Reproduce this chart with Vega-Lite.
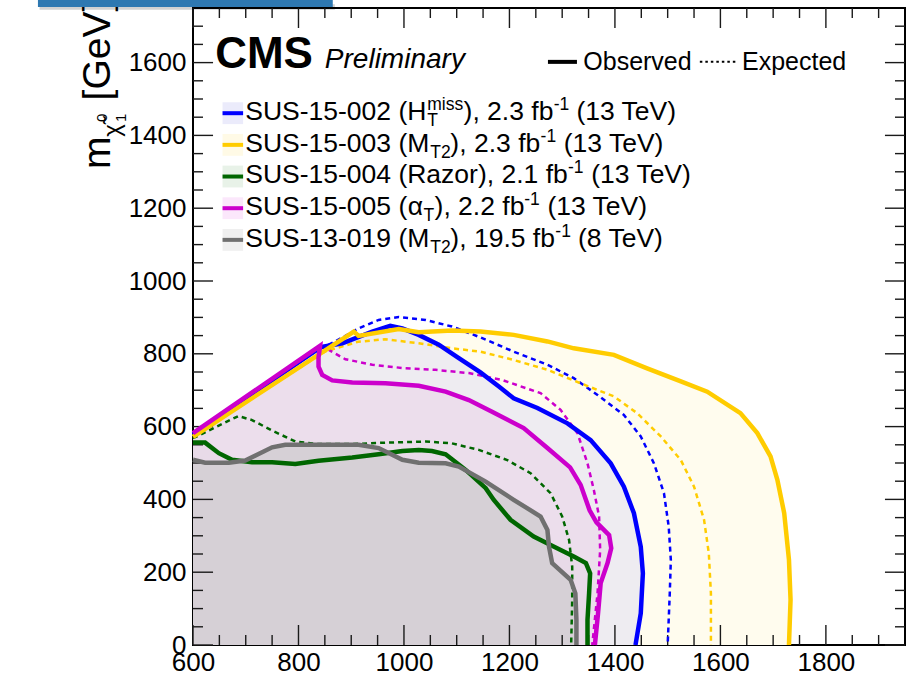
{
  "$schema": "https://vega.github.io/schema/vega-lite/v6.json",
  "width": 712,
  "height": 637,
  "autosize": {"type": "none"},
  "padding": {"left": 193, "top": 8, "right": 17, "bottom": 32},
  "background": "white",
  "config": {
    "view": {"stroke": "#000", "strokeWidth": 2},
    "font": "Liberation Sans"
  },
  "datasets": {
    "contours": [
      {"a": "SUS-15-002", "t": "obs", "i": 0, "x": 600, "y": 0},
      {"a": "SUS-15-002", "t": "obs", "i": 1, "x": 600, "y": 578},
      {"a": "SUS-15-002", "t": "obs", "i": 2, "x": 842, "y": 818},
      {"a": "SUS-15-002", "t": "obs", "i": 3, "x": 883, "y": 829},
      {"a": "SUS-15-002", "t": "obs", "i": 4, "x": 940, "y": 861},
      {"a": "SUS-15-002", "t": "obs", "i": 5, "x": 974, "y": 877},
      {"a": "SUS-15-002", "t": "obs", "i": 6, "x": 997, "y": 870},
      {"a": "SUS-15-002", "t": "obs", "i": 7, "x": 1028, "y": 852},
      {"a": "SUS-15-002", "t": "obs", "i": 8, "x": 1066, "y": 825},
      {"a": "SUS-15-002", "t": "obs", "i": 9, "x": 1104, "y": 788},
      {"a": "SUS-15-002", "t": "obs", "i": 10, "x": 1145, "y": 749},
      {"a": "SUS-15-002", "t": "obs", "i": 11, "x": 1180, "y": 710},
      {"a": "SUS-15-002", "t": "obs", "i": 12, "x": 1208, "y": 678},
      {"a": "SUS-15-002", "t": "obs", "i": 13, "x": 1253, "y": 651},
      {"a": "SUS-15-002", "t": "obs", "i": 14, "x": 1310, "y": 609},
      {"a": "SUS-15-002", "t": "obs", "i": 15, "x": 1354, "y": 563},
      {"a": "SUS-15-002", "t": "obs", "i": 16, "x": 1392, "y": 499},
      {"a": "SUS-15-002", "t": "obs", "i": 17, "x": 1417, "y": 435},
      {"a": "SUS-15-002", "t": "obs", "i": 18, "x": 1436, "y": 362},
      {"a": "SUS-15-002", "t": "obs", "i": 19, "x": 1449, "y": 270},
      {"a": "SUS-15-002", "t": "obs", "i": 20, "x": 1453, "y": 197},
      {"a": "SUS-15-002", "t": "obs", "i": 21, "x": 1449, "y": 87},
      {"a": "SUS-15-002", "t": "obs", "i": 22, "x": 1439, "y": 0},
      {"a": "SUS-15-002", "t": "exp", "i": 1, "x": 600, "y": 580},
      {"a": "SUS-15-002", "t": "exp", "i": 2, "x": 838, "y": 812},
      {"a": "SUS-15-002", "t": "exp", "i": 3, "x": 870, "y": 834},
      {"a": "SUS-15-002", "t": "exp", "i": 4, "x": 914, "y": 870},
      {"a": "SUS-15-002", "t": "exp", "i": 5, "x": 952, "y": 893},
      {"a": "SUS-15-002", "t": "exp", "i": 6, "x": 990, "y": 901},
      {"a": "SUS-15-002", "t": "exp", "i": 7, "x": 1041, "y": 893},
      {"a": "SUS-15-002", "t": "exp", "i": 8, "x": 1091, "y": 875},
      {"a": "SUS-15-002", "t": "exp", "i": 9, "x": 1145, "y": 845},
      {"a": "SUS-15-002", "t": "exp", "i": 10, "x": 1208, "y": 806},
      {"a": "SUS-15-002", "t": "exp", "i": 11, "x": 1272, "y": 770},
      {"a": "SUS-15-002", "t": "exp", "i": 12, "x": 1322, "y": 733},
      {"a": "SUS-15-002", "t": "exp", "i": 13, "x": 1367, "y": 687},
      {"a": "SUS-15-002", "t": "exp", "i": 14, "x": 1417, "y": 632},
      {"a": "SUS-15-002", "t": "exp", "i": 15, "x": 1449, "y": 573},
      {"a": "SUS-15-002", "t": "exp", "i": 16, "x": 1474, "y": 499},
      {"a": "SUS-15-002", "t": "exp", "i": 17, "x": 1493, "y": 417},
      {"a": "SUS-15-002", "t": "exp", "i": 18, "x": 1502, "y": 325},
      {"a": "SUS-15-002", "t": "exp", "i": 19, "x": 1506, "y": 234},
      {"a": "SUS-15-002", "t": "exp", "i": 20, "x": 1504, "y": 142},
      {"a": "SUS-15-002", "t": "exp", "i": 21, "x": 1500, "y": 0},

      {"a": "SUS-15-003", "t": "obs", "i": 0, "x": 600, "y": 0},
      {"a": "SUS-15-003", "t": "obs", "i": 1, "x": 600, "y": 572},
      {"a": "SUS-15-003", "t": "obs", "i": 2, "x": 905, "y": 861},
      {"a": "SUS-15-003", "t": "obs", "i": 3, "x": 914, "y": 849},
      {"a": "SUS-15-003", "t": "obs", "i": 4, "x": 990, "y": 868},
      {"a": "SUS-15-003", "t": "obs", "i": 5, "x": 1028, "y": 859},
      {"a": "SUS-15-003", "t": "obs", "i": 6, "x": 1091, "y": 864},
      {"a": "SUS-15-003", "t": "obs", "i": 7, "x": 1145, "y": 861},
      {"a": "SUS-15-003", "t": "obs", "i": 8, "x": 1208, "y": 852},
      {"a": "SUS-15-003", "t": "obs", "i": 9, "x": 1272, "y": 834},
      {"a": "SUS-15-003", "t": "obs", "i": 10, "x": 1322, "y": 815},
      {"a": "SUS-15-003", "t": "obs", "i": 11, "x": 1398, "y": 797},
      {"a": "SUS-15-003", "t": "obs", "i": 12, "x": 1461, "y": 760},
      {"a": "SUS-15-003", "t": "obs", "i": 13, "x": 1525, "y": 724},
      {"a": "SUS-15-003", "t": "obs", "i": 14, "x": 1575, "y": 696},
      {"a": "SUS-15-003", "t": "obs", "i": 15, "x": 1638, "y": 637},
      {"a": "SUS-15-003", "t": "obs", "i": 16, "x": 1670, "y": 582},
      {"a": "SUS-15-003", "t": "obs", "i": 17, "x": 1695, "y": 518},
      {"a": "SUS-15-003", "t": "obs", "i": 18, "x": 1708, "y": 454},
      {"a": "SUS-15-003", "t": "obs", "i": 19, "x": 1721, "y": 362},
      {"a": "SUS-15-003", "t": "obs", "i": 20, "x": 1730, "y": 234},
      {"a": "SUS-15-003", "t": "obs", "i": 21, "x": 1733, "y": 124},
      {"a": "SUS-15-003", "t": "obs", "i": 22, "x": 1730, "y": 0},
      {"a": "SUS-15-003", "t": "exp", "i": 1, "x": 600, "y": 574},
      {"a": "SUS-15-003", "t": "exp", "i": 2, "x": 850, "y": 806},
      {"a": "SUS-15-003", "t": "exp", "i": 3, "x": 913, "y": 833},
      {"a": "SUS-15-003", "t": "exp", "i": 4, "x": 964, "y": 840},
      {"a": "SUS-15-003", "t": "exp", "i": 5, "x": 1028, "y": 829},
      {"a": "SUS-15-003", "t": "exp", "i": 6, "x": 1091, "y": 815},
      {"a": "SUS-15-003", "t": "exp", "i": 7, "x": 1145, "y": 806},
      {"a": "SUS-15-003", "t": "exp", "i": 8, "x": 1208, "y": 783},
      {"a": "SUS-15-003", "t": "exp", "i": 9, "x": 1272, "y": 756},
      {"a": "SUS-15-003", "t": "exp", "i": 10, "x": 1335, "y": 719},
      {"a": "SUS-15-003", "t": "exp", "i": 11, "x": 1398, "y": 683},
      {"a": "SUS-15-003", "t": "exp", "i": 12, "x": 1442, "y": 637},
      {"a": "SUS-15-003", "t": "exp", "i": 13, "x": 1487, "y": 573},
      {"a": "SUS-15-003", "t": "exp", "i": 14, "x": 1525, "y": 508},
      {"a": "SUS-15-003", "t": "exp", "i": 15, "x": 1550, "y": 435},
      {"a": "SUS-15-003", "t": "exp", "i": 16, "x": 1569, "y": 344},
      {"a": "SUS-15-003", "t": "exp", "i": 17, "x": 1578, "y": 252},
      {"a": "SUS-15-003", "t": "exp", "i": 18, "x": 1582, "y": 142},
      {"a": "SUS-15-003", "t": "exp", "i": 19, "x": 1582, "y": 0},

      {"a": "SUS-15-004", "t": "obs", "i": 0, "x": 600, "y": 0},
      {"a": "SUS-15-004", "t": "obs", "i": 1, "x": 600, "y": 556},
      {"a": "SUS-15-004", "t": "obs", "i": 2, "x": 623, "y": 556},
      {"a": "SUS-15-004", "t": "obs", "i": 3, "x": 649, "y": 527},
      {"a": "SUS-15-004", "t": "obs", "i": 4, "x": 674, "y": 509},
      {"a": "SUS-15-004", "t": "obs", "i": 5, "x": 712, "y": 502},
      {"a": "SUS-15-004", "t": "obs", "i": 6, "x": 750, "y": 502},
      {"a": "SUS-15-004", "t": "obs", "i": 7, "x": 794, "y": 497},
      {"a": "SUS-15-004", "t": "obs", "i": 8, "x": 838, "y": 506},
      {"a": "SUS-15-004", "t": "obs", "i": 9, "x": 902, "y": 515},
      {"a": "SUS-15-004", "t": "obs", "i": 10, "x": 952, "y": 524},
      {"a": "SUS-15-004", "t": "obs", "i": 11, "x": 997, "y": 533},
      {"a": "SUS-15-004", "t": "obs", "i": 12, "x": 1028, "y": 536},
      {"a": "SUS-15-004", "t": "obs", "i": 13, "x": 1053, "y": 533},
      {"a": "SUS-15-004", "t": "obs", "i": 14, "x": 1079, "y": 524},
      {"a": "SUS-15-004", "t": "obs", "i": 15, "x": 1117, "y": 481},
      {"a": "SUS-15-004", "t": "obs", "i": 16, "x": 1155, "y": 431},
      {"a": "SUS-15-004", "t": "obs", "i": 17, "x": 1170, "y": 399},
      {"a": "SUS-15-004", "t": "obs", "i": 18, "x": 1202, "y": 344},
      {"a": "SUS-15-004", "t": "obs", "i": 19, "x": 1246, "y": 298},
      {"a": "SUS-15-004", "t": "obs", "i": 20, "x": 1278, "y": 275},
      {"a": "SUS-15-004", "t": "obs", "i": 21, "x": 1322, "y": 243},
      {"a": "SUS-15-004", "t": "obs", "i": 22, "x": 1345, "y": 225},
      {"a": "SUS-15-004", "t": "obs", "i": 23, "x": 1353, "y": 197},
      {"a": "SUS-15-004", "t": "obs", "i": 24, "x": 1351, "y": 142},
      {"a": "SUS-15-004", "t": "obs", "i": 25, "x": 1348, "y": 69},
      {"a": "SUS-15-004", "t": "obs", "i": 26, "x": 1348, "y": 0},
      {"a": "SUS-15-004", "t": "exp", "i": 1, "x": 600, "y": 568},
      {"a": "SUS-15-004", "t": "exp", "i": 2, "x": 686, "y": 629},
      {"a": "SUS-15-004", "t": "exp", "i": 3, "x": 712, "y": 618},
      {"a": "SUS-15-004", "t": "exp", "i": 4, "x": 750, "y": 589},
      {"a": "SUS-15-004", "t": "exp", "i": 5, "x": 781, "y": 568},
      {"a": "SUS-15-004", "t": "exp", "i": 6, "x": 794, "y": 559},
      {"a": "SUS-15-004", "t": "exp", "i": 7, "x": 838, "y": 552},
      {"a": "SUS-15-004", "t": "exp", "i": 8, "x": 902, "y": 552},
      {"a": "SUS-15-004", "t": "exp", "i": 9, "x": 965, "y": 556},
      {"a": "SUS-15-004", "t": "exp", "i": 10, "x": 1041, "y": 559},
      {"a": "SUS-15-004", "t": "exp", "i": 11, "x": 1091, "y": 554},
      {"a": "SUS-15-004", "t": "exp", "i": 12, "x": 1142, "y": 536},
      {"a": "SUS-15-004", "t": "exp", "i": 13, "x": 1196, "y": 508},
      {"a": "SUS-15-004", "t": "exp", "i": 14, "x": 1240, "y": 472},
      {"a": "SUS-15-004", "t": "exp", "i": 15, "x": 1278, "y": 417},
      {"a": "SUS-15-004", "t": "exp", "i": 16, "x": 1300, "y": 353},
      {"a": "SUS-15-004", "t": "exp", "i": 17, "x": 1313, "y": 289},
      {"a": "SUS-15-004", "t": "exp", "i": 18, "x": 1319, "y": 215},
      {"a": "SUS-15-004", "t": "exp", "i": 19, "x": 1319, "y": 124},
      {"a": "SUS-15-004", "t": "exp", "i": 20, "x": 1317, "y": 0},

      {"a": "SUS-13-019", "t": "obs", "i": 0, "x": 600, "y": 0},
      {"a": "SUS-13-019", "t": "obs", "i": 1, "x": 600, "y": 509},
      {"a": "SUS-13-019", "t": "obs", "i": 2, "x": 623, "y": 501},
      {"a": "SUS-13-019", "t": "obs", "i": 3, "x": 668, "y": 501},
      {"a": "SUS-13-019", "t": "obs", "i": 4, "x": 699, "y": 507},
      {"a": "SUS-13-019", "t": "obs", "i": 5, "x": 750, "y": 543},
      {"a": "SUS-13-019", "t": "obs", "i": 6, "x": 775, "y": 550},
      {"a": "SUS-13-019", "t": "obs", "i": 7, "x": 838, "y": 550},
      {"a": "SUS-13-019", "t": "obs", "i": 8, "x": 914, "y": 550},
      {"a": "SUS-13-019", "t": "obs", "i": 9, "x": 952, "y": 541},
      {"a": "SUS-13-019", "t": "obs", "i": 10, "x": 997, "y": 509},
      {"a": "SUS-13-019", "t": "obs", "i": 11, "x": 1028, "y": 501},
      {"a": "SUS-13-019", "t": "obs", "i": 12, "x": 1079, "y": 499},
      {"a": "SUS-13-019", "t": "obs", "i": 13, "x": 1104, "y": 490},
      {"a": "SUS-13-019", "t": "obs", "i": 14, "x": 1155, "y": 449},
      {"a": "SUS-13-019", "t": "obs", "i": 15, "x": 1208, "y": 399},
      {"a": "SUS-13-019", "t": "obs", "i": 16, "x": 1259, "y": 353},
      {"a": "SUS-13-019", "t": "obs", "i": 17, "x": 1272, "y": 316},
      {"a": "SUS-13-019", "t": "obs", "i": 18, "x": 1275, "y": 270},
      {"a": "SUS-13-019", "t": "obs", "i": 19, "x": 1281, "y": 225},
      {"a": "SUS-13-019", "t": "obs", "i": 20, "x": 1316, "y": 179},
      {"a": "SUS-13-019", "t": "obs", "i": 21, "x": 1325, "y": 142},
      {"a": "SUS-13-019", "t": "obs", "i": 22, "x": 1327, "y": 69},
      {"a": "SUS-13-019", "t": "obs", "i": 23, "x": 1327, "y": 0},

      {"a": "SUS-15-005", "t": "obs", "i": 0, "x": 600, "y": 0},
      {"a": "SUS-15-005", "t": "obs", "i": 1, "x": 600, "y": 582},
      {"a": "SUS-15-005", "t": "obs", "i": 2, "x": 841, "y": 822},
      {"a": "SUS-15-005", "t": "obs", "i": 3, "x": 838, "y": 790},
      {"a": "SUS-15-005", "t": "obs", "i": 4, "x": 838, "y": 765},
      {"a": "SUS-15-005", "t": "obs", "i": 5, "x": 845, "y": 742},
      {"a": "SUS-15-005", "t": "obs", "i": 6, "x": 864, "y": 727},
      {"a": "SUS-15-005", "t": "obs", "i": 7, "x": 902, "y": 721},
      {"a": "SUS-15-005", "t": "obs", "i": 8, "x": 965, "y": 719},
      {"a": "SUS-15-005", "t": "obs", "i": 9, "x": 1028, "y": 712},
      {"a": "SUS-15-005", "t": "obs", "i": 10, "x": 1079, "y": 696},
      {"a": "SUS-15-005", "t": "obs", "i": 11, "x": 1123, "y": 673},
      {"a": "SUS-15-005", "t": "obs", "i": 12, "x": 1167, "y": 641},
      {"a": "SUS-15-005", "t": "obs", "i": 13, "x": 1227, "y": 596},
      {"a": "SUS-15-005", "t": "obs", "i": 14, "x": 1272, "y": 541},
      {"a": "SUS-15-005", "t": "obs", "i": 15, "x": 1315, "y": 488},
      {"a": "SUS-15-005", "t": "obs", "i": 16, "x": 1335, "y": 440},
      {"a": "SUS-15-005", "t": "obs", "i": 17, "x": 1352, "y": 370},
      {"a": "SUS-15-005", "t": "obs", "i": 18, "x": 1365, "y": 337},
      {"a": "SUS-15-005", "t": "obs", "i": 19, "x": 1389, "y": 302},
      {"a": "SUS-15-005", "t": "obs", "i": 20, "x": 1393, "y": 266},
      {"a": "SUS-15-005", "t": "obs", "i": 21, "x": 1386, "y": 225},
      {"a": "SUS-15-005", "t": "obs", "i": 22, "x": 1373, "y": 170},
      {"a": "SUS-15-005", "t": "obs", "i": 23, "x": 1368, "y": 87},
      {"a": "SUS-15-005", "t": "obs", "i": 24, "x": 1362, "y": 0},
      {"a": "SUS-15-005", "t": "exp", "i": 1, "x": 600, "y": 580},
      {"a": "SUS-15-005", "t": "exp", "i": 2, "x": 842, "y": 818},
      {"a": "SUS-15-005", "t": "exp", "i": 3, "x": 851, "y": 816},
      {"a": "SUS-15-005", "t": "exp", "i": 4, "x": 889, "y": 785},
      {"a": "SUS-15-005", "t": "exp", "i": 5, "x": 940, "y": 770},
      {"a": "SUS-15-005", "t": "exp", "i": 6, "x": 997, "y": 761},
      {"a": "SUS-15-005", "t": "exp", "i": 7, "x": 1060, "y": 756},
      {"a": "SUS-15-005", "t": "exp", "i": 8, "x": 1123, "y": 747},
      {"a": "SUS-15-005", "t": "exp", "i": 9, "x": 1186, "y": 728},
      {"a": "SUS-15-005", "t": "exp", "i": 10, "x": 1259, "y": 692},
      {"a": "SUS-15-005", "t": "exp", "i": 11, "x": 1297, "y": 646},
      {"a": "SUS-15-005", "t": "exp", "i": 12, "x": 1329, "y": 582},
      {"a": "SUS-15-005", "t": "exp", "i": 13, "x": 1348, "y": 499},
      {"a": "SUS-15-005", "t": "exp", "i": 14, "x": 1360, "y": 426},
      {"a": "SUS-15-005", "t": "exp", "i": 15, "x": 1370, "y": 353},
      {"a": "SUS-15-005", "t": "exp", "i": 16, "x": 1372, "y": 261},
      {"a": "SUS-15-005", "t": "exp", "i": 17, "x": 1367, "y": 142},
      {"a": "SUS-15-005", "t": "exp", "i": 18, "x": 1357, "y": 0}
    ],
    "xMajorTicks": [{"v": 600}, {"v": 800}, {"v": 1000}, {"v": 1200}, {"v": 1400}, {"v": 1600}, {"v": 1800}],
    "xMinorTicks": [{"v": 650}, {"v": 700}, {"v": 750}, {"v": 850}, {"v": 900}, {"v": 950}, {"v": 1050}, {"v": 1100}, {"v": 1150},
                    {"v": 1250}, {"v": 1300}, {"v": 1350}, {"v": 1450}, {"v": 1500}, {"v": 1550}, {"v": 1650}, {"v": 1700}, {"v": 1750},
                    {"v": 1850}, {"v": 1900}],
    "yMajorTicks": [{"v": 0}, {"v": 200}, {"v": 400}, {"v": 600}, {"v": 800}, {"v": 1000}, {"v": 1200}, {"v": 1400}, {"v": 1600}],
    "yMinorTicks": [{"v": 50}, {"v": 100}, {"v": 150}, {"v": 250}, {"v": 300}, {"v": 350}, {"v": 450}, {"v": 500}, {"v": 550},
                    {"v": 650}, {"v": 700}, {"v": 750}, {"v": 850}, {"v": 900}, {"v": 950}, {"v": 1050}, {"v": 1100}, {"v": 1150},
                    {"v": 1250}, {"v": 1300}, {"v": 1350}, {"v": 1450}, {"v": 1500}, {"v": 1550}, {"v": 1650}, {"v": 1700}],
    "swatches": [
      {"a": "SUS-15-002", "x0": 656, "x1": 695, "y": 1461, "ylo": 1431, "yhi": 1491},
      {"a": "SUS-15-003", "x0": 656, "x1": 695, "y": 1374, "ylo": 1344, "yhi": 1404},
      {"a": "SUS-15-004", "x0": 656, "x1": 695, "y": 1287, "ylo": 1257, "yhi": 1317},
      {"a": "SUS-15-005", "x0": 656, "x1": 695, "y": 1200, "ylo": 1170, "yhi": 1230},
      {"a": "SUS-13-019", "x0": 656, "x1": 695, "y": 1113, "ylo": 1083, "yhi": 1143}
    ],
    "legendText": [
      {"x": 699, "y": 1442, "text": "SUS-15-002 (H", "kind": "main"},
      {"x": 1044, "y": 1442, "text": "miss", "kind": "sup"},
      {"x": 1044, "y": 1442, "text": "T", "kind": "sub"},
      {"x": 1113, "y": 1442, "text": "), 2.3 fb", "kind": "main"},
      {"x": 1284, "y": 1442, "text": "-1", "kind": "sup"},
      {"x": 1327, "y": 1442, "text": "(13 TeV)", "kind": "main"},
      {"x": 699, "y": 1355, "text": "SUS-15-003 (M", "kind": "main"},
      {"x": 1050, "y": 1355, "text": "T2", "kind": "sub"},
      {"x": 1088, "y": 1355, "text": "), 2.3 fb", "kind": "main"},
      {"x": 1259, "y": 1355, "text": "-1", "kind": "sup"},
      {"x": 1303, "y": 1355, "text": "(13 TeV)", "kind": "main"},
      {"x": 699, "y": 1268, "text": "SUS-15-004 (Razor), 2.1 fb", "kind": "main"},
      {"x": 1311, "y": 1268, "text": "-1", "kind": "sup"},
      {"x": 1355, "y": 1268, "text": "(13 TeV)", "kind": "main"},
      {"x": 699, "y": 1181, "text": "SUS-15-005 (", "kind": "main"},
      {"x": 1007, "y": 1181, "text": "α", "kind": "main"},
      {"x": 1037, "y": 1181, "text": "T", "kind": "sub"},
      {"x": 1058, "y": 1181, "text": "), 2.2 fb", "kind": "main"},
      {"x": 1228, "y": 1181, "text": "-1", "kind": "sup"},
      {"x": 1272, "y": 1181, "text": "(13 TeV)", "kind": "main"},
      {"x": 699, "y": 1094, "text": "SUS-13-019 (M", "kind": "main"},
      {"x": 1050, "y": 1094, "text": "T2", "kind": "sub"},
      {"x": 1088, "y": 1094, "text": "), 19.5 fb", "kind": "main"},
      {"x": 1287, "y": 1094, "text": "-1", "kind": "sup"},
      {"x": 1330, "y": 1094, "text": "(8 TeV)", "kind": "main"}
    ],
    "axisTitle": [
      {"x": 443, "y": 1308, "text": "m", "kind": "main"},
      {"x": 443, "y": 1396, "text": "χ̃", "kind": "chi"},
      {"x": 443, "y": 1437, "text": "0", "kind": "sup"},
      {"x": 443, "y": 1437, "text": "1", "kind": "sub"},
      {"x": 443, "y": 1496, "text": "[GeV]", "kind": "main"}
    ]
  },
  "layer": [
    {
      "data": {"name": "contours"},
      "transform": [{"filter": "datum.a === 'SUS-15-003' && datum.t === 'obs'"}],
      "mark": {"type": "line", "fill": "#FFFCEE", "strokeOpacity": 0, "strokeWidth": 0},
      "encoding": {
        "x": {"field": "x", "type": "quantitative", "scale": {"domain": [600, 1950], "nice": false, "zero": false},
              "axis": {"orient": "bottom", "values": [600, 800, 1000, 1200, 1400, 1600, 1800], "format": "d", "ticks": false, "domain": false, "grid": false,
                       "labelFont": "Liberation Sans", "labelFontSize": 26, "labelColor": "#000", "labelPadding": 4, "labelFlush": false, "labelOverlap": false, "title": null}},
        "y": {"field": "y", "type": "quantitative", "scale": {"domain": [0, 1750], "nice": false, "zero": false},
              "axis": {"orient": "left", "values": [0, 200, 400, 600, 800, 1000, 1200, 1400, 1600], "format": "d", "ticks": false, "domain": false, "grid": false,
                       "labelFont": "Liberation Sans", "labelFontSize": 26, "labelColor": "#000", "labelPadding": 7, "labelOverlap": false, "title": null}},
        "order": {"field": "i", "type": "quantitative"}
      }
    },
    {
      "data": {"name": "contours"},
      "transform": [{"filter": "datum.a === 'SUS-15-002' && datum.t === 'obs'"}],
      "mark": {"type": "line", "fill": "#EEECF1", "strokeOpacity": 0, "strokeWidth": 0},
      "encoding": {
        "x": {"field": "x", "type": "quantitative", "scale": {"domain": [600, 1950], "nice": false, "zero": false}, "axis": null},
        "y": {"field": "y", "type": "quantitative", "scale": {"domain": [0, 1750], "nice": false, "zero": false}, "axis": null},
        "order": {"field": "i", "type": "quantitative"}
      }
    },
    {
      "data": {"name": "contours"},
      "transform": [{"filter": "datum.a === 'SUS-15-005' && datum.t === 'obs'"}],
      "mark": {"type": "line", "fill": "#ECDEEC", "strokeOpacity": 0, "strokeWidth": 0},
      "encoding": {
        "x": {"field": "x", "type": "quantitative", "scale": {"domain": [600, 1950], "nice": false, "zero": false}, "axis": null},
        "y": {"field": "y", "type": "quantitative", "scale": {"domain": [0, 1750], "nice": false, "zero": false}, "axis": null},
        "order": {"field": "i", "type": "quantitative"}
      }
    },
    {
      "data": {"name": "contours"},
      "transform": [{"filter": "datum.a === 'SUS-15-004' && datum.t === 'obs'"}],
      "mark": {"type": "line", "fill": "#E8DAE8", "strokeOpacity": 0, "strokeWidth": 0},
      "encoding": {
        "x": {"field": "x", "type": "quantitative", "scale": {"domain": [600, 1950], "nice": false, "zero": false}, "axis": null},
        "y": {"field": "y", "type": "quantitative", "scale": {"domain": [0, 1750], "nice": false, "zero": false}, "axis": null},
        "order": {"field": "i", "type": "quantitative"}
      }
    },
    {
      "data": {"name": "contours"},
      "transform": [{"filter": "datum.a === 'SUS-13-019' && datum.t === 'obs'"}],
      "mark": {"type": "line", "fill": "#D6D0D6", "strokeOpacity": 0, "strokeWidth": 0},
      "encoding": {
        "x": {"field": "x", "type": "quantitative", "scale": {"domain": [600, 1950], "nice": false, "zero": false}, "axis": null},
        "y": {"field": "y", "type": "quantitative", "scale": {"domain": [0, 1750], "nice": false, "zero": false}, "axis": null},
        "order": {"field": "i", "type": "quantitative"}
      }
    },
    {
      "data": {"name": "xMajorTicks"},
      "mark": {"type": "rule", "strokeWidth": 1.4, "color": "#1a1a1a"},
      "encoding": {
        "x": {"field": "v", "type": "quantitative", "scale": {"domain": [600, 1950], "nice": false, "zero": false}, "axis": null},
        "y": {"datum": 0, "type": "quantitative", "scale": {"domain": [0, 1750], "nice": false, "zero": false}, "axis": null},
        "y2": {"datum": 55}
      }
    },
    {
      "data": {"name": "xMajorTicks"},
      "mark": {"type": "rule", "strokeWidth": 1.4, "color": "#1a1a1a"},
      "encoding": {
        "x": {"field": "v", "type": "quantitative", "scale": {"domain": [600, 1950], "nice": false, "zero": false}, "axis": null},
        "y": {"datum": 1750, "type": "quantitative", "scale": {"domain": [0, 1750], "nice": false, "zero": false}, "axis": null},
        "y2": {"datum": 1695}
      }
    },
    {
      "data": {"name": "xMinorTicks"},
      "mark": {"type": "rule", "strokeWidth": 1.4, "color": "#1a1a1a"},
      "encoding": {
        "x": {"field": "v", "type": "quantitative", "scale": {"domain": [600, 1950], "nice": false, "zero": false}, "axis": null},
        "y": {"datum": 0, "type": "quantitative", "scale": {"domain": [0, 1750], "nice": false, "zero": false}, "axis": null},
        "y2": {"datum": 27.5}
      }
    },
    {
      "data": {"name": "xMinorTicks"},
      "mark": {"type": "rule", "strokeWidth": 1.4, "color": "#1a1a1a"},
      "encoding": {
        "x": {"field": "v", "type": "quantitative", "scale": {"domain": [600, 1950], "nice": false, "zero": false}, "axis": null},
        "y": {"datum": 1750, "type": "quantitative", "scale": {"domain": [0, 1750], "nice": false, "zero": false}, "axis": null},
        "y2": {"datum": 1722.5}
      }
    },
    {
      "data": {"name": "yMajorTicks"},
      "mark": {"type": "rule", "strokeWidth": 1.4, "color": "#1a1a1a"},
      "encoding": {
        "y": {"field": "v", "type": "quantitative", "scale": {"domain": [0, 1750], "nice": false, "zero": false}, "axis": null},
        "x": {"datum": 600, "type": "quantitative", "scale": {"domain": [600, 1950], "nice": false, "zero": false}, "axis": null},
        "x2": {"datum": 638}
      }
    },
    {
      "data": {"name": "yMajorTicks"},
      "mark": {"type": "rule", "strokeWidth": 1.4, "color": "#1a1a1a"},
      "encoding": {
        "y": {"field": "v", "type": "quantitative", "scale": {"domain": [0, 1750], "nice": false, "zero": false}, "axis": null},
        "x": {"datum": 1950, "type": "quantitative", "scale": {"domain": [600, 1950], "nice": false, "zero": false}, "axis": null},
        "x2": {"datum": 1912}
      }
    },
    {
      "data": {"name": "yMinorTicks"},
      "mark": {"type": "rule", "strokeWidth": 1.4, "color": "#1a1a1a"},
      "encoding": {
        "y": {"field": "v", "type": "quantitative", "scale": {"domain": [0, 1750], "nice": false, "zero": false}, "axis": null},
        "x": {"datum": 600, "type": "quantitative", "scale": {"domain": [600, 1950], "nice": false, "zero": false}, "axis": null},
        "x2": {"datum": 619}
      }
    },
    {
      "data": {"name": "yMinorTicks"},
      "mark": {"type": "rule", "strokeWidth": 1.4, "color": "#1a1a1a"},
      "encoding": {
        "y": {"field": "v", "type": "quantitative", "scale": {"domain": [0, 1750], "nice": false, "zero": false}, "axis": null},
        "x": {"datum": 1950, "type": "quantitative", "scale": {"domain": [600, 1950], "nice": false, "zero": false}, "axis": null},
        "x2": {"datum": 1931}
      }
    },
    {
      "data": {"name": "contours"},
      "transform": [{"filter": "datum.t === 'exp'"}],
      "mark": {"type": "line", "strokeWidth": 2.5, "strokeDash": [5, 4]},
      "encoding": {
        "x": {"field": "x", "type": "quantitative", "scale": {"domain": [600, 1950], "nice": false, "zero": false}, "axis": null},
        "y": {"field": "y", "type": "quantitative", "scale": {"domain": [0, 1750], "nice": false, "zero": false}, "axis": null},
        "color": {"field": "a", "type": "nominal", "legend": null,
                  "scale": {"domain": ["SUS-15-002", "SUS-15-003", "SUS-15-004", "SUS-15-005", "SUS-13-019"], "range": ["#0000FF", "#FFCC00", "#006600", "#CC00CC", "#707070"]}},
        "order": {"field": "i", "type": "quantitative"}
      }
    },
    {
      "data": {"name": "contours"},
      "transform": [{"filter": "datum.t === 'obs' && datum.i > 0"}],
      "mark": {"type": "line", "strokeWidth": 4.5},
      "encoding": {
        "x": {"field": "x", "type": "quantitative", "scale": {"domain": [600, 1950], "nice": false, "zero": false}, "axis": null},
        "y": {"field": "y", "type": "quantitative", "scale": {"domain": [0, 1750], "nice": false, "zero": false}, "axis": null},
        "color": {"field": "a", "type": "nominal", "legend": null,
                  "scale": {"domain": ["SUS-15-002", "SUS-15-003", "SUS-15-004", "SUS-15-005", "SUS-13-019"], "range": ["#0000FF", "#FFCC00", "#006600", "#CC00CC", "#707070"]}},
        "order": {"field": "i", "type": "quantitative"}
      }
    },
    {
      "data": {"name": "swatches"},
      "mark": {"type": "rect"},
      "encoding": {
        "x": {"field": "x0", "type": "quantitative", "scale": {"domain": [600, 1950], "nice": false, "zero": false}, "axis": null},
        "x2": {"field": "x1"},
        "y": {"field": "ylo", "type": "quantitative", "scale": {"domain": [0, 1750], "nice": false, "zero": false}, "axis": null},
        "y2": {"field": "yhi"},
        "fill": {"field": "a", "type": "nominal", "legend": null,
                 "scale": {"domain": ["SUS-15-002", "SUS-15-003", "SUS-15-004", "SUS-15-005", "SUS-13-019"], "range": ["#EBEBFB", "#FFFAE6", "#E8F2E8", "#FBE7FB", "#EFEFEF"]}}
      }
    },
    {
      "data": {"name": "swatches"},
      "mark": {"type": "rule", "strokeWidth": 4},
      "encoding": {
        "x": {"field": "x0", "type": "quantitative", "scale": {"domain": [600, 1950], "nice": false, "zero": false}, "axis": null},
        "x2": {"field": "x1"},
        "y": {"field": "y", "type": "quantitative", "scale": {"domain": [0, 1750], "nice": false, "zero": false}, "axis": null},
        "color": {"field": "a", "type": "nominal", "legend": null,
                  "scale": {"domain": ["SUS-15-002", "SUS-15-003", "SUS-15-004", "SUS-15-005", "SUS-13-019"], "range": ["#0000FF", "#FFCC00", "#006600", "#CC00CC", "#707070"]}}
      }
    },
    {
      "data": {"name": "legendText"},
      "transform": [{"filter": "datum.kind === 'main'"}],
      "mark": {"type": "text", "font": "Liberation Sans", "fontSize": 26.5, "align": "left", "baseline": "alphabetic", "color": "#000"},
      "encoding": {
        "x": {"field": "x", "type": "quantitative", "scale": {"domain": [600, 1950], "nice": false, "zero": false}, "axis": null},
        "y": {"field": "y", "type": "quantitative", "scale": {"domain": [0, 1750], "nice": false, "zero": false}, "axis": null},
        "text": {"field": "text"}
      }
    },
    {
      "data": {"name": "legendText"},
      "transform": [{"filter": "datum.kind === 'sup'"}],
      "mark": {"type": "text", "font": "Liberation Sans", "fontSize": 17.5, "align": "left", "baseline": "alphabetic", "dy": -10, "color": "#000"},
      "encoding": {
        "x": {"field": "x", "type": "quantitative", "scale": {"domain": [600, 1950], "nice": false, "zero": false}, "axis": null},
        "y": {"field": "y", "type": "quantitative", "scale": {"domain": [0, 1750], "nice": false, "zero": false}, "axis": null},
        "text": {"field": "text"}
      }
    },
    {
      "data": {"name": "legendText"},
      "transform": [{"filter": "datum.kind === 'sub'"}],
      "mark": {"type": "text", "font": "Liberation Sans", "fontSize": 17.5, "align": "left", "baseline": "alphabetic", "dy": 6, "color": "#000"},
      "encoding": {
        "x": {"field": "x", "type": "quantitative", "scale": {"domain": [600, 1950], "nice": false, "zero": false}, "axis": null},
        "y": {"field": "y", "type": "quantitative", "scale": {"domain": [0, 1750], "nice": false, "zero": false}, "axis": null},
        "text": {"field": "text"}
      }
    },
    {
      "data": {"values": [{"x": 642, "y": 1585, "text": "CMS"}]},
      "mark": {"type": "text", "font": "Liberation Sans", "fontSize": 44, "fontWeight": "bold", "align": "left", "baseline": "alphabetic", "color": "#000"},
      "encoding": {
        "x": {"field": "x", "type": "quantitative", "scale": {"domain": [600, 1950], "nice": false, "zero": false}, "axis": null},
        "y": {"field": "y", "type": "quantitative", "scale": {"domain": [0, 1750], "nice": false, "zero": false}, "axis": null},
        "text": {"field": "text"}
      }
    },
    {
      "data": {"values": [{"x": 850, "y": 1585, "text": "Preliminary"}]},
      "mark": {"type": "text", "font": "Liberation Sans", "fontSize": 28, "fontStyle": "italic", "align": "left", "baseline": "alphabetic", "color": "#000"},
      "encoding": {
        "x": {"field": "x", "type": "quantitative", "scale": {"domain": [600, 1950], "nice": false, "zero": false}, "axis": null},
        "y": {"field": "y", "type": "quantitative", "scale": {"domain": [0, 1750], "nice": false, "zero": false}, "axis": null},
        "text": {"field": "text"}
      }
    },
    {
      "data": {"values": [{"x": 1273, "x2": 1328, "y": 1602}]},
      "mark": {"type": "rule", "strokeWidth": 4, "color": "#000"},
      "encoding": {
        "x": {"field": "x", "type": "quantitative", "scale": {"domain": [600, 1950], "nice": false, "zero": false}, "axis": null},
        "x2": {"field": "x2"},
        "y": {"field": "y", "type": "quantitative", "scale": {"domain": [0, 1750], "nice": false, "zero": false}, "axis": null}
      }
    },
    {
      "data": {"values": [{"x": 1561, "x2": 1632, "y": 1602}]},
      "mark": {"type": "rule", "strokeWidth": 2, "strokeDash": [2.5, 3], "color": "#000"},
      "encoding": {
        "x": {"field": "x", "type": "quantitative", "scale": {"domain": [600, 1950], "nice": false, "zero": false}, "axis": null},
        "x2": {"field": "x2"},
        "y": {"field": "y", "type": "quantitative", "scale": {"domain": [0, 1750], "nice": false, "zero": false}, "axis": null}
      }
    },
    {
      "data": {"values": [{"x": 1340, "y": 1580, "text": "Observed"}, {"x": 1641, "y": 1580, "text": "Expected"}]},
      "mark": {"type": "text", "font": "Liberation Sans", "fontSize": 25, "align": "left", "baseline": "alphabetic", "color": "#000"},
      "encoding": {
        "x": {"field": "x", "type": "quantitative", "scale": {"domain": [600, 1950], "nice": false, "zero": false}, "axis": null},
        "y": {"field": "y", "type": "quantitative", "scale": {"domain": [0, 1750], "nice": false, "zero": false}, "axis": null},
        "text": {"field": "text"}
      }
    },
    {
      "data": {"name": "axisTitle"},
      "transform": [{"filter": "datum.kind === 'main'"}],
      "mark": {"type": "text", "font": "Liberation Sans", "fontSize": 39, "angle": 270, "align": "left", "baseline": "alphabetic", "color": "#000"},
      "encoding": {
        "x": {"field": "x", "type": "quantitative", "scale": {"domain": [600, 1950], "nice": false, "zero": false}, "axis": null},
        "y": {"field": "y", "type": "quantitative", "scale": {"domain": [0, 1750], "nice": false, "zero": false}, "axis": null},
        "text": {"field": "text"}
      }
    },
    {
      "data": {"name": "axisTitle"},
      "transform": [{"filter": "datum.kind === 'chi'"}],
      "mark": {"type": "text", "font": "Liberation Sans", "fontSize": 24, "angle": 270, "align": "left", "baseline": "alphabetic", "dy": 10, "color": "#000"},
      "encoding": {
        "x": {"field": "x", "type": "quantitative", "scale": {"domain": [600, 1950], "nice": false, "zero": false}, "axis": null},
        "y": {"field": "y", "type": "quantitative", "scale": {"domain": [0, 1750], "nice": false, "zero": false}, "axis": null},
        "text": {"field": "text"}
      }
    },
    {
      "data": {"name": "axisTitle"},
      "transform": [{"filter": "datum.kind === 'sup'"}],
      "mark": {"type": "text", "font": "Liberation Sans", "fontSize": 15, "angle": 270, "align": "left", "baseline": "alphabetic", "dy": -3, "color": "#000"},
      "encoding": {
        "x": {"field": "x", "type": "quantitative", "scale": {"domain": [600, 1950], "nice": false, "zero": false}, "axis": null},
        "y": {"field": "y", "type": "quantitative", "scale": {"domain": [0, 1750], "nice": false, "zero": false}, "axis": null},
        "text": {"field": "text"}
      }
    },
    {
      "data": {"name": "axisTitle"},
      "transform": [{"filter": "datum.kind === 'sub'"}],
      "mark": {"type": "text", "font": "Liberation Sans", "fontSize": 15, "angle": 270, "align": "left", "baseline": "alphabetic", "dy": 16, "color": "#000"},
      "encoding": {
        "x": {"field": "x", "type": "quantitative", "scale": {"domain": [600, 1950], "nice": false, "zero": false}, "axis": null},
        "y": {"field": "y", "type": "quantitative", "scale": {"domain": [0, 1750], "nice": false, "zero": false}, "axis": null},
        "text": {"field": "text"}
      }
    },
    {
      "data": {"values": [{"x": 309, "x2": 869, "y": 1745, "y2": 1760}]},
      "mark": {"type": "rect", "color": "#000", "opacity": 0.18},
      "encoding": {
        "x": {"field": "x", "type": "quantitative", "scale": {"domain": [600, 1950], "nice": false, "zero": false}, "axis": null},
        "x2": {"field": "x2"},
        "y": {"field": "y", "type": "quantitative", "scale": {"domain": [0, 1750], "nice": false, "zero": false}, "axis": null},
        "y2": {"field": "y2"}
      }
    },
    {
      "data": {"values": [{"x": 306, "x2": 865, "y": 1753, "y2": 1780}]},
      "mark": {"type": "rect", "color": "#2E78B1"},
      "encoding": {
        "x": {"field": "x", "type": "quantitative", "scale": {"domain": [600, 1950], "nice": false, "zero": false}, "axis": null},
        "x2": {"field": "x2"},
        "y": {"field": "y", "type": "quantitative", "scale": {"domain": [0, 1750], "nice": false, "zero": false}, "axis": null},
        "y2": {"field": "y2"}
      }
    }
  ],
  "resolve": {"axis": {"x": "independent", "y": "independent"}}
}
